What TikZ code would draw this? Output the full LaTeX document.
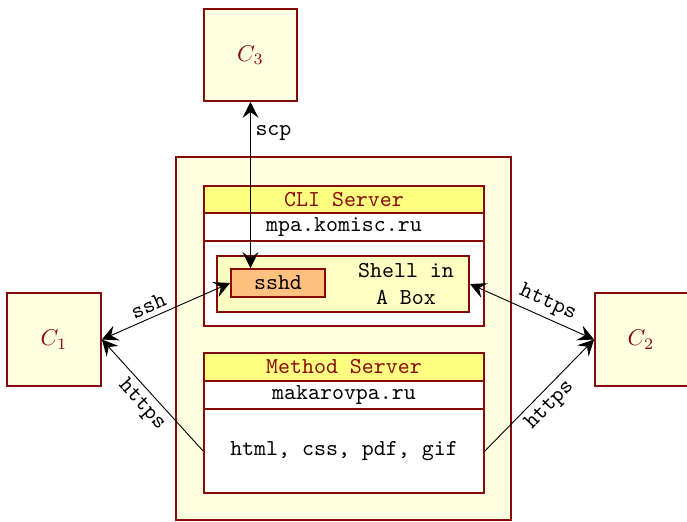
\documentclass[tikz,border=0pt]{standalone}
\usetikzlibrary{fit,arrows.meta}
\definecolor{dred}{RGB}{135,10,10}
\definecolor{lyel}{RGB}{255,255,226}
\definecolor{hyel}{RGB}{255,255,128}
\definecolor{syel}{RGB}{255,255,196}
\definecolor{sorange}{RGB}{255,192,128}
\tikzset{
  box/.style={draw=dred, line width=0.8pt, inner sep=0pt},
  client/.style={box, fill=lyel, text=dred},
  hdr/.style={box, fill=hyel, text=dred, font=\ttfamily},
  row/.style={box, fill=white, font=\ttfamily},
  conn/.style={line width=0.4pt, >={Stealth[length=7pt,width=7pt,inset=2.6pt]}},
  lbl/.style={font=\ttfamily, inner sep=2pt}
}
\begin{document}
\begin{tikzpicture}[x=0.4385pt,y=-0.4385pt]
\useasboundingbox (0,0) rectangle (687,521);
% clients
\node[client, fit={(204,9) (297,101)}] (c3) {};
\node[text=dred] at (c3.center) {$C_3$};
\node[client, fit={(7,293) (101,386)}] (c1) {};
\node[text=dred] at (c1.center) {$C_1$};
\node[client, fit={(595,293) (689,386)}] (c2) {};
\node[text=dred] at (641,339.5) {$C_2$};
% outer box
\node[box, fill=lyel, fit={(176,157) (511,520)}] (outer) {};
% CLI server
\node[hdr, fit={(204,186) (484,213)}] (clih) {};
\node[text=dred, font=\ttfamily] at (clih.center) {CLI Server};
\node[row, fit={(204,213) (484,241)}] (clir) {};
\node[font=\ttfamily] at (clir.center) {mpa.komisc.ru};
\node[row, fit={(204,241) (484,326)}] (clib) {};
\node[box, fill=syel, fit={(217,256) (469,312)}] (shell) {};
\node[font=\ttfamily, align=center] (shelltxt) at (406,284) {Shell in\\A Box};
\node[box, fill=sorange, fit={(231,269) (325,297)}] (sshd) {};
\node[font=\ttfamily] at (sshd.center) {sshd};
% Method server
\node[hdr, fit={(204,353) (484,381)}] (mh) {};
\node[text=dred, font=\ttfamily] at (mh.center) {Method Server};
\node[row, fit={(204,381) (484,409)}] (mr) {};
\node[font=\ttfamily] at (mr.center) {makarovpa.ru};
\node[row, fit={(204,409) (484,493)}] (mb) {};
\node[font=\ttfamily] at (344,451) {html, css, pdf, gif};
% connectors
\draw[conn,<->] (c3.south) -- node[lbl, right, pos=0.19] {scp} (c3.south |- sshd.north);
\draw[conn,<->] (c1.east) -- node[lbl, above, sloped, pos=0.4] {ssh} (sshd.west);
\draw[conn,<->] (c2.west) -- node[lbl, above, sloped, pos=0.42] {https} (shell.east);
\draw[conn,->] (mb.west) -- node[lbl, below, sloped, pos=0.5] {https} (c1.east);
\draw[conn,->] (mb.east) -- node[lbl, below, sloped, pos=0.5] {https} (c2.west);
\end{tikzpicture}
\end{document}
